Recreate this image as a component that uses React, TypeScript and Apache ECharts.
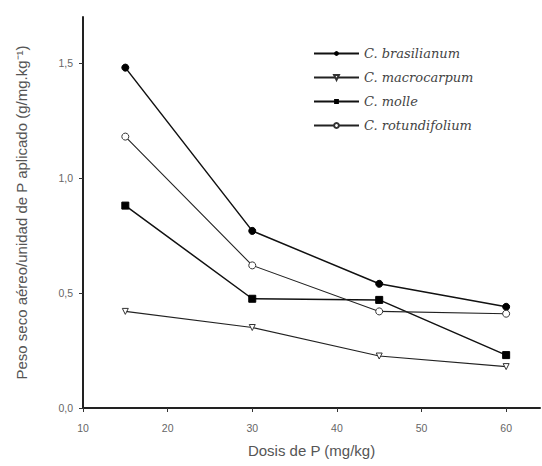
import React, { useEffect, useRef } from "react";
import * as echarts from "echarts";

const doses = [15, 30, 45, 60];
const brasilianum = [1.48, 0.77, 0.54, 0.44];
const macrocarpum = [0.42, 0.35, 0.226, 0.18];
const molle = [0.88, 0.475, 0.47, 0.23];
const rotundifolium = [1.18, 0.62, 0.42, 0.41];
const xTicks = [10, 20, 30, 40, 50, 60];
const yTicks = [0, 0.5, 1.0, 1.5];

const pair = (vals: number[]) => doses.map((d, i) => [d, vals[i]]);

export default function App() {
  const ref = useRef<HTMLDivElement>(null);
  useEffect(() => {
    const chart = echarts.init(ref.current!, undefined, { renderer: "svg" });
    const labelStyle = { color: "#666", fontSize: 10.5, fontFamily: "Liberation Sans, Arial, sans-serif" };
    chart.setOption({
      animation: false,
      backgroundColor: "#fff",
      grid: { left: 83, right: 2, top: 17, bottom: 58 },
      legend: {
        orient: "vertical",
        left: 308,
        top: 42,
        itemWidth: 45,
        itemHeight: 6,
        itemGap: 11,
        textStyle: {
          fontFamily: "DejaVu Serif, Liberation Serif, serif",
          fontStyle: "italic",
          fontSize: 13,
          color: "#444",
        },
        data: ["C. brasilianum", "C. macrocarpum", "C. molle", "C. rotundifolium"],
      },
      xAxis: {
        type: "value",
        min: 10,
        max: 64,
        interval: 10,
        name: "Dosis de P (mg/kg)",
        nameLocation: "middle",
        nameGap: 35,
        nameTextStyle: { color: "#555", fontSize: 15, fontFamily: "Liberation Sans, Arial, sans-serif" },
        axisLine: { lineStyle: { color: "#222", width: 2 } },
        axisTick: { inside: false, length: 4, lineStyle: { color: "#333" }, customValues: xTicks },
        axisLabel: { ...labelStyle, margin: 14, customValues: xTicks },
        splitLine: { show: false },
      },
      yAxis: {
        type: "value",
        min: 0,
        max: 1.7,
        interval: 0.5,
        name: "Peso seco aéreo/unidad de P aplicado (g/mg.kg⁻¹)",
        nameLocation: "middle",
        nameRotate: 90,
        nameGap: 54,
        nameTextStyle: { color: "#555", fontSize: 15, fontFamily: "Liberation Sans, Arial, sans-serif" },
        axisLine: { show: true, lineStyle: { color: "#222", width: 2 } },
        axisTick: { show: true, inside: false, length: 4, lineStyle: { color: "#333" }, customValues: yTicks },
        axisLabel: {
          ...labelStyle,
          margin: 10,
          customValues: yTicks,
          formatter: (v: number) => v.toFixed(1).replace(".", ","),
        },
        splitLine: { show: false },
      },
      series: [
        {
          name: "C. brasilianum",
          type: "line",
          data: pair(brasilianum),
          symbol: "circle",
          symbolSize: 7,
          lineStyle: { color: "#111", width: 1.5 },
          itemStyle: { color: "#000", borderColor: "#000" },
        },
        {
          name: "C. macrocarpum",
          type: "line",
          data: pair(macrocarpum),
          symbol: "triangle",
          symbolRotate: 180,
          symbolSize: 6,
          lineStyle: { color: "#222", width: 1.1 },
          itemStyle: { color: "#fff", borderColor: "#333", borderWidth: 1 },
        },
        {
          name: "C. molle",
          type: "line",
          data: pair(molle),
          symbol: "rect",
          symbolSize: 7,
          lineStyle: { color: "#111", width: 1.5 },
          itemStyle: { color: "#000", borderColor: "#000" },
        },
        {
          name: "C. rotundifolium",
          type: "line",
          data: pair(rotundifolium),
          symbol: "circle",
          symbolSize: 7,
          lineStyle: { color: "#222", width: 1.1 },
          itemStyle: { color: "#fff", borderColor: "#333", borderWidth: 1 },
        },
      ],
    });
    return () => chart.dispose();
  }, []);
  return <div ref={ref} style={{ width: 542, height: 466, position: "absolute", left: 0, top: 0 }} />;
}
